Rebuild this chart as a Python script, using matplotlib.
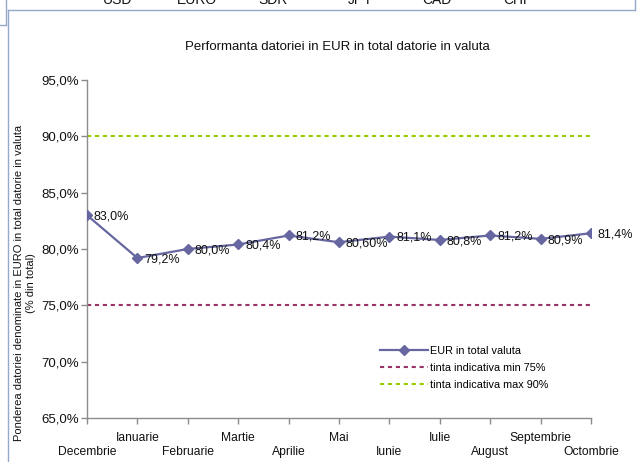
import matplotlib
matplotlib.use("Agg")
import matplotlib.pyplot as plt
from matplotlib.lines import Line2D
from matplotlib.ticker import FuncFormatter

plt.rcParams['font.family'] = ['Liberation Sans', 'DejaVu Sans']

months = ["Decembrie", "Ianuarie", "Februarie", "Martie", "Aprilie", "Mai",
          "Iunie", "Iulie", "August", "Septembrie", "Octombrie"]
eur_share = [83.0, 79.2, 80.0, 80.4, 81.2, 80.6, 81.1, 80.8, 81.2, 80.9, 81.4]
value_labels = ["83,0%", "79,2%", "80,0%", "80,4%", "81,2%", "80,60%", "81,1%",
                "80,8%", "81,2%", "80,9%", "81,4%"]
target_min = 75.0
target_max = 90.0
table_header = ["USD", "EURO", "SDR", "JPY", "CAD", "CHF"]
table_x_px = [118, 197, 273, 360, 437, 517]

W, H = 637, 462
fig = plt.figure(figsize=(W / 100, H / 100), dpi=100)

def fx(px):
    return px / W

def fy(py):
    return 1 - py / H

# frame / table borders
border = "#95AACB"
fig.add_artist(Line2D([fx(8), fx(635)], [fy(10), fy(10)], color=border, lw=1.0, transform=fig.transFigure))
fig.add_artist(Line2D([fx(635), fx(635)], [fy(0), fy(10)], color=border, lw=1.0, transform=fig.transFigure))
fig.add_artist(Line2D([fx(8), fx(8)], [fy(10), fy(462)], color=border, lw=1.0, transform=fig.transFigure))
fig.add_artist(Line2D([fx(6), fx(6)], [fy(0), fy(25)], color=border, lw=1.0, transform=fig.transFigure))
fig.add_artist(Line2D([fx(0), fx(6)], [fy(25), fy(25)], color=border, lw=1.0, transform=fig.transFigure))
for name, xp in zip(table_header, table_x_px):
    fig.text(fx(xp), fy(0), name, ha="center", va="center", fontsize=10, color="#111111")

ax = fig.add_axes([fx(87), fy(418), fx(591) - fx(87), fy(80) - fy(418)])
x = list(range(len(months)))

ax.plot(x, eur_share, color="#6666A0", lw=1.6, marker="D", markersize=5,
        markerfacecolor="#6666A0", markeredgecolor="#6666A0", label="EUR in total valuta", zorder=3)
ax.plot([x[0], x[-1]], [target_min, target_min], color="#993366", lw=1.5,
        dashes=(2.0, 1.8), label="tinta indicativa min 75%")
ax.plot([x[0], x[-1]], [target_max, target_max], color="#99CC00", lw=1.5,
        dashes=(2.0, 1.8), label="tinta indicativa max 90%")

for xi, yi, lab in zip(x, eur_share, value_labels):
    ax.annotate(lab, (xi, yi), xytext=(5, -1), textcoords="offset points",
                ha="left", va="center", fontsize=9, color="#111111")

ax.set_xlim(0, 10)
ax.set_ylim(65, 95)
ax.set_yticks([65, 70, 75, 80, 85, 90, 95])
ax.yaxis.set_major_formatter(FuncFormatter(lambda v, p: f"{v:.1f}%".replace(".", ",")))
ax.set_xticks(x)
ax.set_xticklabels([m if i % 2 == 1 else "\n" + m for i, m in enumerate(months)])

for s in ["top", "right"]:
    ax.spines[s].set_visible(False)
for s in ["left", "bottom"]:
    ax.spines[s].set_color("#8C8C8C")
    ax.spines[s].set_linewidth(1.0)
ax.tick_params(axis="both", colors="#8C8C8C", length=4, width=1.0, labelcolor="#111111")
ax.tick_params(axis="y", labelsize=9.5, pad=2)
ax.tick_params(axis="x", labelsize=8.7, pad=6)
for t in ax.get_xticklabels():
    t.set_linespacing(1.25)

fig.text(fx(337), fy(47), "Performanta datoriei in EUR in total datorie in valuta",
         ha="center", va="center", fontsize=9.5, color="#111111")

fig.text(fx(25), fy(283),
         "Ponderea datoriei denominate in EURO in total datorie in valuta\n(% din total)",
         rotation=90, ha="center", va="center", fontsize=8, color="#111111",
         multialignment="center", linespacing=1.15)

leg = ax.legend(loc="upper left", bbox_to_anchor=(fx(380), fy(346)),
                bbox_transform=fig.transFigure, frameon=False, fontsize=7.8,
                handlelength=4.4, handletextpad=0.25, labelspacing=0.65,
                borderaxespad=0, borderpad=0)

fig.savefig("out.png", dpi=100)
